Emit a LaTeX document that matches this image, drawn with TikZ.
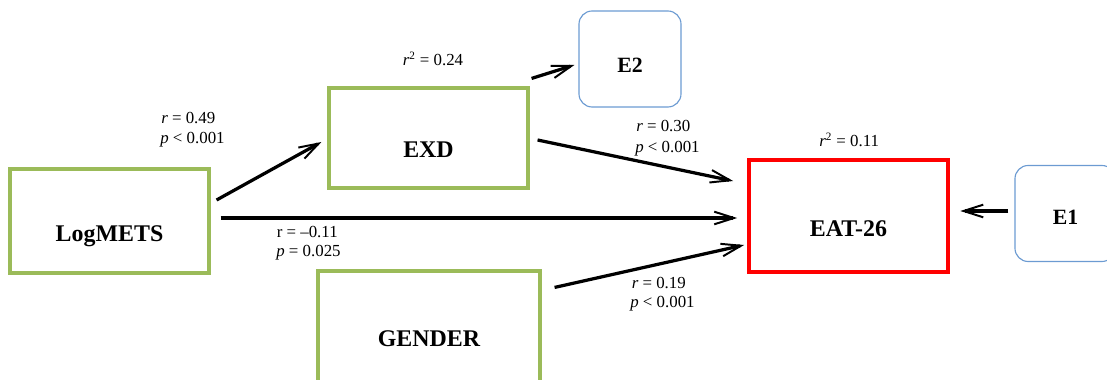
\documentclass[tikz,border=0pt]{standalone}
\usepackage{fontspec}
\setmainfont{Liberation Serif}
\usetikzlibrary{calc,positioning,arrows.meta}
\definecolor{boxgreen}{HTML}{9BBB59}
\definecolor{errblue}{HTML}{6C9BD2}
\definecolor{outred}{HTML}{FF0000}
\newcommand{\boxwidth}{4.975cm}
\newcommand{\logmetsheight}{2.6cm}
\newcommand{\exdheight}{2.5cm}
\newcommand{\genderwidth}{5.55cm}
\newcommand{\genderheight}{3.5cm}
\newcommand{\eatheight}{2.8cm}
\newcommand{\errwidth}{2.55cm}
\newcommand{\errheight}{2.4cm}
\newcommand{\errcorner}{0.33cm}

\begin{document}
\begin{tikzpicture}[x=0.025cm,y=-0.025cm]
\useasboundingbox (0,0) rectangle (1107,380);
\clip (0,0) rectangle (1107,380);

\tikzstyle{varbox}=[draw=boxgreen,line width=2.2pt,minimum width=\boxwidth]
\tikzstyle{outbox}=[draw=outred,line width=2.6pt,minimum width=\boxwidth,minimum height=\eatheight]
\tikzstyle{errbox}=[draw=errblue,line width=0.8pt,rounded corners=\errcorner,minimum width=\errwidth,minimum height=\errheight]
\tikzstyle{boxtext}=[font=\fontsize{17}{20}\selectfont\bfseries,anchor=base,inner sep=0pt]
\tikzstyle{errtext}=[font=\fontsize{15.5}{18}\selectfont\bfseries,anchor=base,inner sep=0pt]
\tikzstyle{stat}=[font=\fontsize{12}{14}\selectfont,anchor=base west,inner sep=0pt]
\tikzstyle{effect}=[line width=2.3pt,-{Straight Barb[length=14pt,width=9pt,line width=1.4pt]}]

%% observed variables
\node (logmets) [varbox, minimum height=\logmetsheight] at (109.5,221) {};
\node (exd) [varbox, minimum height=\exdheight] at (428.5,138) {};
\node (gender) [varbox, minimum width=\genderwidth, minimum height=\genderheight] at (429,341) {};
\node (eat) [outbox] at (848.5,216) {};

%% error terms
\node (etwo) [errbox] at (630,59) {};
\node (eone) [errbox, minimum width=2.5cm] at (1065,213.5) {};

%% box texts
\node (logmetstext) [boxtext] at ($(logmets.center)+(0,21)$) {LogMETS};
\node (exdtext) [boxtext] at ($(exd.center)+(0,20)$) {EXD};
\node (gendertext) [boxtext] at (429,346) {GENDER};
\node (eattext) [boxtext] at ($(eat.center)+(0,21)$) {EAT-26};
\node (etwotext) [errtext] at ($(etwo.center)+(0,14)$) {E2};
\node (eonetext) [errtext] at ($(eone.center)+(0.6,11.5)$) {E1};

%% paths
\draw[effect] ($(logmets.east)+(6,-21)$) -- ($(exd.west)+(-6,4)$);
\draw[effect] ($(exd.north east)+(2,-8)$) -- ($(etwo.west)+(-4,6)$);
\draw[effect] ($(exd.east)+(8,2)$) -- ($(eat.west)+(-14,-35)$);
\draw[effect] ($(logmets.east)+(10,-3)$) -- ($(eat.west)+(-10,2)$);
\draw[effect] ($(gender.north east)+(13,18)$) -- ($(eat.west)+(-3,29)$);
\draw[effect, line width=3.5pt] ($(eone.west)+(-6,-2.5)$) -- ($(eat.east)+(10.5,-5)$);

%% coefficients
\node (rlogexd) [stat] at (161,124) {{\itshape r} = 0.49};
\node (plogexd) [stat] at (160,144) {{\itshape p} < 0.001};
\node (rsqexd) [stat] at (402.5,66) {{\itshape r}\textsuperscript{2} = 0.24};
\node (rexdeat) [stat] at (636,131.5) {{\itshape r} = 0.30};
\node (pexdeat) [stat] at (635,152.5) {{\itshape p} < 0.001};
\node (rsqeat) [stat] at (819,147) {{\itshape r}\textsuperscript{2} = 0.11};
\node (rlogeat) [stat] at (276.5,238) {r = –0.11};
\node (plogeat) [stat] at (276,257) {{\itshape p} = 0.025};
\node (rgeneat) [stat] at (631.5,288) {{\itshape r} = 0.19};
\node (pgeneat) [stat] at (630,308) {{\itshape p} < 0.001};

\end{tikzpicture}
\end{document}
